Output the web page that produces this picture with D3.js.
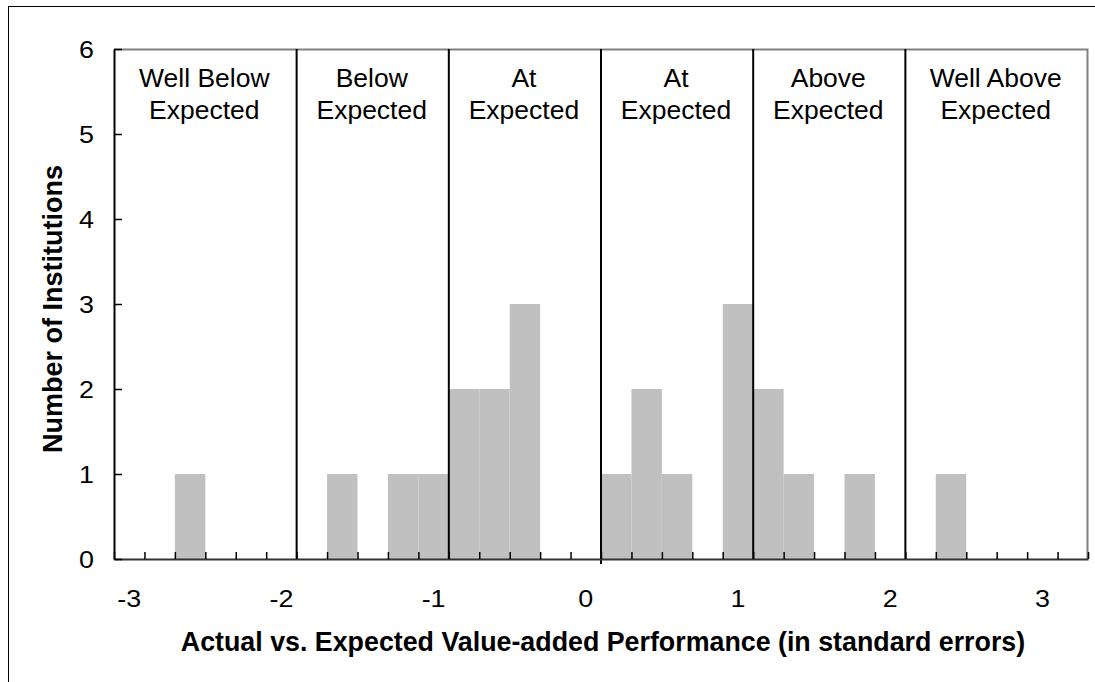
<!DOCTYPE html>
<html>
<head>
<meta charset="utf-8">
<script src="https://cdn.jsdelivr.net/npm/d3@7"></script>
<style>
  html, body { margin: 0; padding: 0; background: #fff; }
  svg { display: block; }
  text { font-family: "Liberation Sans", Arial, sans-serif; fill: #000; }
</style>
</head>
<body>
<svg id="chart" width="1095" height="682"></svg>
<script>
// ---- data ----
const binCenters = [-3.0, -2.8, -2.6, -2.4, -2.2, -2.0, -1.8, -1.6, -1.4, -1.2,
                    -1.0, -0.8, -0.6, -0.4, -0.2, 0.0, 0.2, 0.4, 0.6, 0.8,
                    1.0, 1.2, 1.4, 1.6, 1.8, 2.0, 2.2, 2.4, 2.6, 2.8, 3.0, 3.2];
const counts = [0, 0, 1, 0, 0, 0, 0, 1, 0, 1,
                1, 2, 2, 3, 0, 0, 1, 2, 1, 0,
                3, 2, 1, 0, 1, 0, 0, 1, 0, 0, 0, 0];
const xTickValues = [-3, -2, -1, 0, 1, 2, 3];
const xTickLabels = ["-3", "-2", "-1", "0", "1", "2", "3"];
const yTickValues = [0, 1, 2, 3, 4, 5, 6];
const regionBounds = [-3.1, -1.9, -0.9, 0.1, 1.1, 2.1, 3.3];
const regionLabels = [["Well Below", "Expected"], ["Below", "Expected"], ["At", "Expected"],
                      ["At", "Expected"], ["Above", "Expected"], ["Well Above", "Expected"]];
const binWidth = 0.2;
const xTitle = "Actual vs. Expected Value-added Performance (in standard errors)";
const yTitle = "Number of Institutions";

// ---- layout ----
const mLeft = 114, mRight = 1088, mTop = 49, mBottom = 559;
const svg = d3.select("#chart");

const x = d3.scaleLinear().domain([regionBounds[0], regionBounds[regionBounds.length - 1]]).range([mLeft, mRight]);
const y = d3.scaleLinear().domain([0, 6]).range([mBottom, mTop]);

// outer border
svg.append("rect").attr("x", 8.5).attr("y", 6.5).attr("width", 1200).attr("height", 800)
  .attr("fill", "none").attr("stroke", "#000").attr("stroke-width", 1);

// bars
svg.append("g").selectAll("rect").data(binCenters.map((c, i) => ({c, v: counts[i]})).filter(d => d.v > 0))
  .join("rect")
  .attr("x", d => x(d.c - binWidth / 2))
  .attr("width", d => x(d.c + binWidth / 2) - x(d.c - binWidth / 2))
  .attr("y", d => y(d.v))
  .attr("height", d => y(0) - y(d.v))
  .attr("fill", "#c0c0c0");

// plot frame top/right (gray)
svg.append("path").attr("d", `M${mLeft},${mTop + 0.5}H${mRight - 0.5}V${mBottom}`)
  .attr("fill", "none").attr("stroke", "#808080").attr("stroke-width", 2);

// region separator lines
const inner = regionBounds.slice(1, -1);
svg.append("g").selectAll("line").data(inner).join("line")
  .attr("x1", d => x(d)).attr("x2", d => x(d))
  .attr("y1", mTop).attr("y2", (d, i) => i === 2 ? mBottom + 5 : mBottom)
  .attr("stroke", "#000").attr("stroke-width", 2);

// x axis: ticks at bin edges (inside)
const binEdges = binCenters.map(c => c - binWidth / 2).concat([binCenters[binCenters.length - 1] + binWidth / 2]);
const xAxis = d3.axisBottom(x).tickValues(binEdges).tickSizeInner(-7).tickSizeOuter(0).tickFormat("");
const gx = svg.append("g").attr("transform", `translate(0,${mBottom})`).call(xAxis);
gx.select(".domain").attr("stroke", "#333").attr("stroke-width", 2);
gx.selectAll(".tick line").attr("stroke", "#000").attr("stroke-width", 1.5);

// x tick labels (category labels)
svg.append("g").selectAll("text").data(xTickValues).join("text")
  .attr("transform", d => `translate(${x(d)},607) scale(1.12,1)`)
  .attr("text-anchor", "middle")
  .style("font-size", "24px")
  .text((d, i) => xTickLabels[i]);

// y axis
const yAxis = d3.axisLeft(y).tickValues(yTickValues).tickSizeInner(-8).tickSizeOuter(0).tickFormat("");
const gy = svg.append("g").attr("transform", `translate(${mLeft},0)`).call(yAxis);
gy.select(".domain").attr("stroke", "#000").attr("stroke-width", 2);
gy.selectAll(".tick line").attr("stroke", "#000").attr("stroke-width", 1.5);

svg.append("g").selectAll("text").data(yTickValues).join("text")
  .attr("transform", d => `translate(94,${y(d) + 8.5}) scale(1.12,1)`)
  .attr("text-anchor", "end")
  .style("font-size", "24px")
  .text(d => d);

// region labels
const rg = svg.append("g");
regionLabels.forEach((lines, i) => {
  const cx = (x(regionBounds[i]) + x(regionBounds[i + 1])) / 2;
  const t = rg.append("text").attr("text-anchor", "middle").style("font-size", "26.5px");
  lines.forEach((ln, j) => {
    t.append("tspan").attr("x", cx - 1).attr("y", 87 + j * 32).text(ln);
  });
});

// axis titles
svg.append("text").attr("x", 603).attr("y", 651)
  .attr("text-anchor", "middle").style("font-size", "26.8px").style("font-weight", "bold")
  .text(xTitle);

svg.append("text").attr("transform", `translate(62,309) rotate(-90)`)
  .attr("text-anchor", "middle").style("font-size", "27px").style("font-weight", "bold")
  .text(yTitle);
</script>
</body>
</html>
